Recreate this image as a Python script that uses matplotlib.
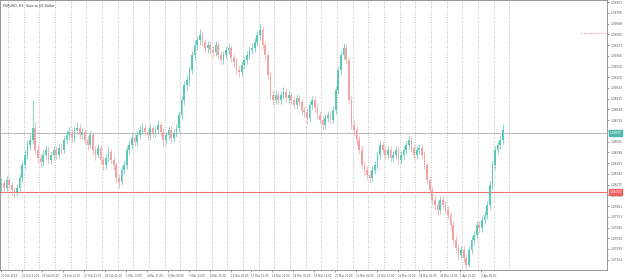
import matplotlib
matplotlib.use("Agg")
import matplotlib.pyplot as plt

# EURUSD 4-hour candles (first candle 20 Feb 12:00)
opens = [
    1.0806, 1.0809, 1.0804, 1.0812, 1.0807, 1.0802, 1.0800, 1.0804, 1.0814, 1.0827,
    1.0837, 1.0847, 1.0852, 1.0864, 1.0842, 1.0834, 1.0830, 1.0837, 1.0842, 1.0832,
    1.0837, 1.0842, 1.0837, 1.0844, 1.0842, 1.0852, 1.0857, 1.0860, 1.0854, 1.0862,
    1.0864, 1.0857, 1.0860, 1.0852, 1.0847, 1.0857, 1.0842, 1.0837, 1.0844, 1.0832,
    1.0827, 1.0834, 1.0840, 1.0832, 1.0827, 1.0814, 1.0810, 1.0822, 1.0827, 1.0842,
    1.0847, 1.0854, 1.0850, 1.0857, 1.0862, 1.0864, 1.0860, 1.0857, 1.0864, 1.0859,
    1.0862, 1.0867, 1.0860, 1.0852, 1.0857, 1.0862, 1.0854, 1.0859, 1.0864, 1.0877,
    1.0892, 1.0907, 1.0912, 1.0922, 1.0937, 1.0947, 1.0952, 1.0957, 1.0950, 1.0944,
    1.0947, 1.0942, 1.0940, 1.0947, 1.0937, 1.0932, 1.0937, 1.0942, 1.0944, 1.0934,
    1.0930, 1.0922, 1.0920, 1.0927, 1.0932, 1.0937, 1.0942, 1.0944, 1.0950, 1.0957,
    1.0962, 1.0947, 1.0937, 1.0917, 1.0897, 1.0892, 1.0897, 1.0892, 1.0897, 1.0900,
    1.0894, 1.0897, 1.0892, 1.0887, 1.0894, 1.0890, 1.0882, 1.0880, 1.0874, 1.0887,
    1.0892, 1.0884, 1.0877, 1.0872, 1.0867, 1.0874, 1.0877, 1.0872, 1.0882, 1.0902,
    1.0922, 1.0937, 1.0944, 1.0932, 1.0892, 1.0867, 1.0862, 1.0852, 1.0842, 1.0827,
    1.0822, 1.0817, 1.0814, 1.0822, 1.0827, 1.0837, 1.0847, 1.0842, 1.0837, 1.0842,
    1.0834, 1.0837, 1.0842, 1.0832, 1.0837, 1.0842, 1.0847, 1.0852, 1.0844, 1.0837,
    1.0842, 1.0844, 1.0837, 1.0827, 1.0812, 1.0802, 1.0792, 1.0787, 1.0782, 1.0792,
    1.0787, 1.0782, 1.0777, 1.0767, 1.0752, 1.0744, 1.0737, 1.0742, 1.0734, 1.0727,
    1.0742, 1.0752, 1.0757, 1.0767, 1.0764, 1.0772, 1.0777, 1.0787, 1.0807, 1.0827,
    1.0842, 1.0847, 1.0852,
]
highs = [
    1.0814, 1.0812, 1.0816, 1.0815, 1.0810, 1.0805, 1.0808, 1.0818, 1.0831, 1.0842,
    1.0852, 1.0858, 1.0892, 1.0870, 1.0848, 1.0839, 1.0842, 1.0847, 1.0846, 1.0841,
    1.0846, 1.0846, 1.0848, 1.0849, 1.0856, 1.0862, 1.0865, 1.0863, 1.0866, 1.0870,
    1.0868, 1.0864, 1.0863, 1.0856, 1.0861, 1.0860, 1.0846, 1.0848, 1.0847, 1.0836,
    1.0838, 1.0845, 1.0843, 1.0836, 1.0830, 1.0818, 1.0826, 1.0831, 1.0846, 1.0851,
    1.0858, 1.0858, 1.0861, 1.0866, 1.0869, 1.0868, 1.0863, 1.0868, 1.0867, 1.0866,
    1.0872, 1.0870, 1.0864, 1.0860, 1.0866, 1.0866, 1.0863, 1.0868, 1.0881, 1.0896,
    1.0911, 1.0917, 1.0926, 1.0941, 1.0952, 1.0956, 1.0963, 1.0961, 1.0953, 1.0951,
    1.0951, 1.0946, 1.0951, 1.0950, 1.0941, 1.0941, 1.0946, 1.0949, 1.0947, 1.0938,
    1.0934, 1.0926, 1.0931, 1.0936, 1.0941, 1.0946, 1.0949, 1.0954, 1.0961, 1.0968,
    1.0966, 1.0951, 1.0940, 1.0921, 1.0901, 1.0902, 1.0901, 1.0901, 1.0905, 1.0904,
    1.0901, 1.0900, 1.0896, 1.0898, 1.0897, 1.0893, 1.0886, 1.0884, 1.0891, 1.0896,
    1.0896, 1.0888, 1.0881, 1.0876, 1.0878, 1.0881, 1.0880, 1.0886, 1.0906, 1.0926,
    1.0941, 1.0949, 1.0947, 1.0935, 1.0896, 1.0872, 1.0866, 1.0856, 1.0846, 1.0831,
    1.0826, 1.0821, 1.0826, 1.0831, 1.0841, 1.0851, 1.0851, 1.0846, 1.0846, 1.0846,
    1.0841, 1.0846, 1.0846, 1.0841, 1.0846, 1.0851, 1.0856, 1.0856, 1.0848, 1.0846,
    1.0848, 1.0848, 1.0841, 1.0830, 1.0816, 1.0806, 1.0797, 1.0791, 1.0796, 1.0796,
    1.0791, 1.0786, 1.0781, 1.0771, 1.0756, 1.0748, 1.0746, 1.0746, 1.0738, 1.0746,
    1.0756, 1.0761, 1.0771, 1.0771, 1.0776, 1.0781, 1.0791, 1.0811, 1.0831, 1.0846,
    1.0851, 1.0857, 1.0868,
]
lows = [
    1.0801, 1.0800, 1.0801, 1.0803, 1.0797, 1.0794, 1.0796, 1.0801, 1.0810, 1.0823,
    1.0833, 1.0842, 1.0848, 1.0838, 1.0829, 1.0825, 1.0826, 1.0833, 1.0828, 1.0828,
    1.0832, 1.0833, 1.0834, 1.0838, 1.0839, 1.0848, 1.0852, 1.0850, 1.0850, 1.0858,
    1.0853, 1.0853, 1.0848, 1.0842, 1.0844, 1.0838, 1.0832, 1.0834, 1.0828, 1.0822,
    1.0823, 1.0830, 1.0828, 1.0822, 1.0810, 1.0804, 1.0807, 1.0818, 1.0823, 1.0838,
    1.0843, 1.0846, 1.0846, 1.0853, 1.0858, 1.0856, 1.0852, 1.0853, 1.0855, 1.0855,
    1.0858, 1.0856, 1.0846, 1.0848, 1.0853, 1.0849, 1.0850, 1.0855, 1.0860, 1.0873,
    1.0887, 1.0902, 1.0906, 1.0918, 1.0932, 1.0942, 1.0947, 1.0946, 1.0940, 1.0939,
    1.0938, 1.0935, 1.0936, 1.0933, 1.0927, 1.0928, 1.0933, 1.0938, 1.0930, 1.0925,
    1.0918, 1.0915, 1.0916, 1.0923, 1.0928, 1.0933, 1.0938, 1.0940, 1.0946, 1.0952,
    1.0943, 1.0932, 1.0913, 1.0893, 1.0887, 1.0888, 1.0888, 1.0888, 1.0893, 1.0890,
    1.0889, 1.0888, 1.0883, 1.0883, 1.0886, 1.0878, 1.0875, 1.0868, 1.0870, 1.0883,
    1.0880, 1.0873, 1.0868, 1.0862, 1.0863, 1.0870, 1.0868, 1.0868, 1.0878, 1.0898,
    1.0918, 1.0933, 1.0928, 1.0888, 1.0863, 1.0857, 1.0847, 1.0838, 1.0823, 1.0817,
    1.0813, 1.0809, 1.0810, 1.0818, 1.0823, 1.0833, 1.0838, 1.0833, 1.0833, 1.0830,
    1.0830, 1.0833, 1.0828, 1.0828, 1.0833, 1.0838, 1.0843, 1.0840, 1.0833, 1.0833,
    1.0838, 1.0833, 1.0823, 1.0808, 1.0798, 1.0787, 1.0782, 1.0777, 1.0778, 1.0783,
    1.0778, 1.0773, 1.0763, 1.0748, 1.0739, 1.0732, 1.0733, 1.0730, 1.0723, 1.0725,
    1.0738, 1.0747, 1.0753, 1.0760, 1.0760, 1.0768, 1.0773, 1.0783, 1.0803, 1.0823,
    1.0838, 1.0843, 1.0848,
]
closes = [
    1.0809, 1.0804, 1.0812, 1.0807, 1.0802, 1.0800, 1.0804, 1.0814, 1.0827, 1.0837,
    1.0847, 1.0852, 1.0864, 1.0842, 1.0834, 1.0830, 1.0837, 1.0842, 1.0832, 1.0837,
    1.0842, 1.0837, 1.0844, 1.0842, 1.0852, 1.0857, 1.0860, 1.0854, 1.0862, 1.0864,
    1.0857, 1.0860, 1.0852, 1.0847, 1.0857, 1.0842, 1.0837, 1.0844, 1.0832, 1.0827,
    1.0834, 1.0840, 1.0832, 1.0827, 1.0814, 1.0810, 1.0822, 1.0827, 1.0842, 1.0847,
    1.0854, 1.0850, 1.0857, 1.0862, 1.0864, 1.0860, 1.0857, 1.0864, 1.0859, 1.0862,
    1.0867, 1.0860, 1.0852, 1.0857, 1.0862, 1.0854, 1.0859, 1.0864, 1.0877, 1.0892,
    1.0907, 1.0912, 1.0922, 1.0937, 1.0947, 1.0952, 1.0957, 1.0950, 1.0944, 1.0947,
    1.0942, 1.0940, 1.0947, 1.0937, 1.0932, 1.0937, 1.0942, 1.0944, 1.0934, 1.0930,
    1.0922, 1.0920, 1.0927, 1.0932, 1.0937, 1.0942, 1.0944, 1.0950, 1.0957, 1.0962,
    1.0947, 1.0937, 1.0917, 1.0897, 1.0892, 1.0897, 1.0892, 1.0897, 1.0900, 1.0894,
    1.0897, 1.0892, 1.0887, 1.0894, 1.0890, 1.0882, 1.0880, 1.0874, 1.0887, 1.0892,
    1.0884, 1.0877, 1.0872, 1.0867, 1.0874, 1.0877, 1.0872, 1.0882, 1.0902, 1.0922,
    1.0937, 1.0944, 1.0932, 1.0892, 1.0867, 1.0862, 1.0852, 1.0842, 1.0827, 1.0822,
    1.0817, 1.0814, 1.0822, 1.0827, 1.0837, 1.0847, 1.0842, 1.0837, 1.0842, 1.0834,
    1.0837, 1.0842, 1.0832, 1.0837, 1.0842, 1.0847, 1.0852, 1.0844, 1.0837, 1.0842,
    1.0844, 1.0837, 1.0827, 1.0812, 1.0802, 1.0792, 1.0787, 1.0782, 1.0792, 1.0787,
    1.0782, 1.0777, 1.0767, 1.0752, 1.0744, 1.0737, 1.0742, 1.0734, 1.0727, 1.0742,
    1.0752, 1.0757, 1.0767, 1.0764, 1.0772, 1.0777, 1.0787, 1.0807, 1.0827, 1.0842,
    1.0847, 1.0852, 1.0862,
]

x_labels = [
    "20 Feb 2024", "21 Feb 21:00", "23 Feb 05:00", "26 Feb 13:00", "27 Feb 21:00",
    "29 Feb 05:00", "1 Mar 13:00", "4 Mar 21:00", "6 Mar 05:00", "7 Mar 13:00",
    "8 Mar 21:00", "12 Mar 05:00", "13 Mar 13:00", "14 Mar 21:00", "18 Mar 05:00",
    "19 Mar 13:00", "20 Mar 21:00", "22 Mar 05:00", "25 Mar 13:00", "26 Mar 21:00",
    "28 Mar 05:00", "29 Mar 13:00", "1 Apr 21:00", "3 Apr 05:00",
]

price_top = 1.09903      # first price label
price_step = 0.001075
n_price_ticks = 25
bid_price = 1.0859
level_price = 1.0800
alert_price = 1.0959

bull = "#5cc8b8"
bear = "#f4a3a3"
sep_color = "#a8a8a8"

fig = plt.figure(figsize=(6.25, 2.79), dpi=100)
ax = fig.add_axes([0.0, 0.0305, 607 / 625, 0.968])

# x in H1 bars, 0 = 20 Feb 13:00; each candle spans 4 bars
xs = [4 * k + 1 for k in range(len(closes))]
cols = [bull if c >= o else bear for o, c in zip(opens, closes)]
ax.vlines(xs, lows, highs, colors=cols, linewidth=0.5, zorder=2)
bottoms = [min(o, c) for o, c in zip(opens, closes)]
heights = [max(abs(c - o), 0.00003) for o, c in zip(opens, closes)]
ax.bar(xs, heights, bottom=bottoms, width=2.6, color=cols, linewidth=0, zorder=3)

# daily separators
for d in range(33):
    ax.axvline(11 + 24 * d, color=sep_color, lw=0.6, ls=(0, (1, 2)), zorder=0)

ax.axhline(bid_price, color="#b8b8b8", lw=0.7, zorder=1)
ax.axhline(level_price, color="#f07070", lw=0.8, zorder=1)
ax.plot([889, 927], [alert_price, alert_price], color="#f08080", lw=0.7, ls=(0, (1, 1.5)))

ax.set_xlim(-1.07, 928.5)
px = price_step / 10.75
ax.set_ylim(price_top - 268.8 * px, price_top + 1.7 * px)

# the bid tag covers the scale label right next to it
price_ticks = [price_top - i * price_step for i in range(n_price_ticks)]
tick_text = ["" if abs(p - bid_price) < 0.0004 else f"{p:.5f}" for p in price_ticks]
ax.yaxis.tick_right()
ax.set_yticks(price_ticks)
ax.set_yticklabels(tick_text)
ax.tick_params(axis="y", length=1.5, width=0.4, pad=0.8, labelsize=2.1, colors="#555555")
ax.set_xticks([32 * i for i in range(len(x_labels))])
ax.set_xticklabels(x_labels, ha="left")
ax.tick_params(axis="x", length=1.5, width=0.4, pad=0.8, labelsize=1.9, colors="#555555")
for s in ax.spines.values():
    s.set_color("#888888")
    s.set_linewidth(0.6)

# price tags on the right scale
for p, col in [(bid_price, "#4fb8a8"), (level_price, "#f06060")]:
    ax.text(1.004, p, f"{p:.5f}", transform=ax.get_yaxis_transform(), fontsize=2.1,
            color="white", va="center", ha="left", zorder=5,
            bbox=dict(boxstyle="square,pad=0.25", fc=col, ec=col))

ax.text(0.005, 0.988, "EURUSD, H1:  Euro vs US Dollar", transform=ax.transAxes,
        fontsize=2.3, color="#333333", va="top", ha="left")

fig.savefig("out.png", dpi=100)
